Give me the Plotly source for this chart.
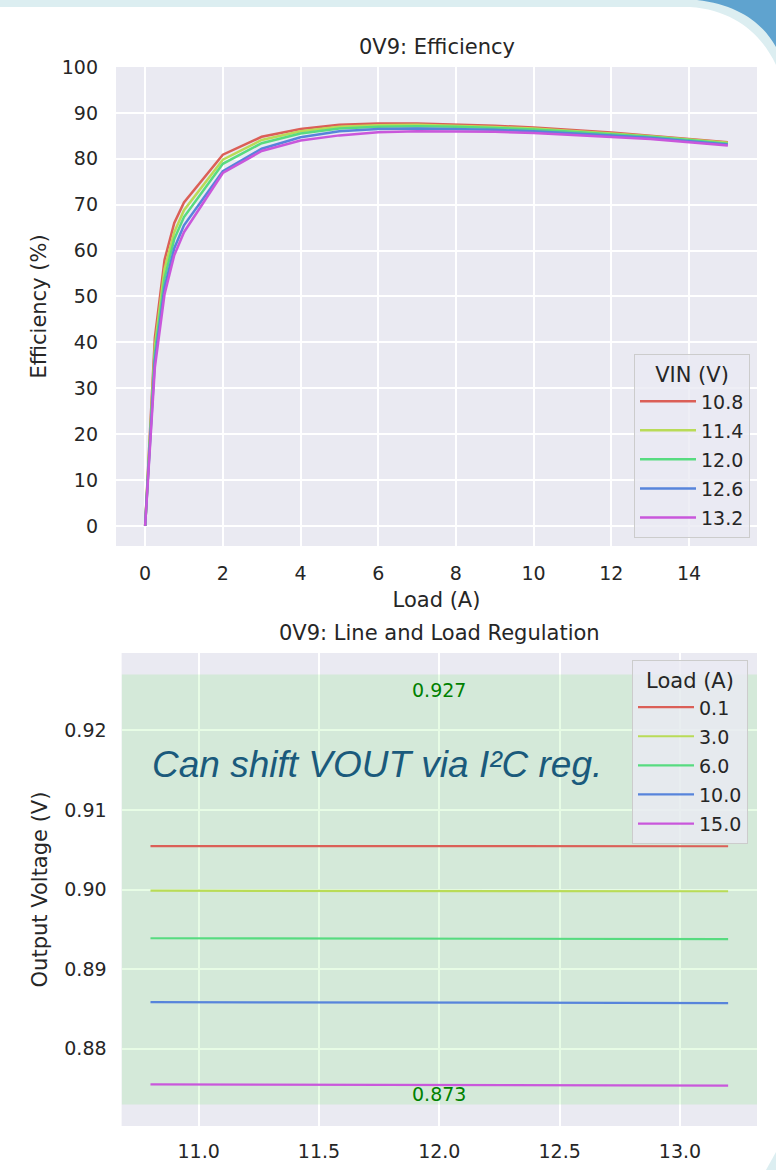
import plotly.graph_objects as go

# ---- Efficiency data: load current (A) vs. efficiency (%) per input voltage ----
loads = [0, 0.25, 0.5, 0.75, 1, 2, 3, 4, 5, 6, 7, 8, 9, 10, 11, 12, 13, 14, 15]
vin_labels = ["10.8", "11.4", "12.0", "12.6", "13.2"]
eff_10v8 = [0, 41.0, 58.0, 66.0, 70.5, 80.9, 84.8, 86.5, 87.4, 87.7, 87.7, 87.5, 87.2, 86.8, 86.3, 85.7, 85.0, 84.3, 83.6]
eff_11v4 = [0, 39.0, 56.0, 64.0, 68.8, 79.8, 84.1, 86.0, 87.0, 87.3, 87.4, 87.2, 86.9, 86.6, 86.1, 85.5, 84.9, 84.2, 83.5]
eff_12v0 = [0, 37.5, 54.0, 62.5, 67.3, 78.9, 83.4, 85.5, 86.6, 87.0, 87.1, 87.0, 86.7, 86.4, 85.9, 85.4, 84.8, 84.1, 83.3]
eff_12v6 = [0, 36.0, 52.0, 60.5, 65.5, 77.3, 82.2, 84.7, 86.0, 86.5, 86.6, 86.5, 86.3, 86.0, 85.6, 85.1, 84.6, 83.9, 83.1]
eff_13v2 = [0, 34.5, 50.5, 59.0, 64.0, 76.9, 81.7, 84.0, 85.1, 85.8, 86.0, 86.0, 85.9, 85.6, 85.2, 84.8, 84.3, 83.6, 82.9]
eff_series = [eff_10v8, eff_11v4, eff_12v0, eff_12v6, eff_13v2]

# ---- Regulation data: input voltage (V) vs. output voltage (V) per load ----
vin = [10.8, 11.4, 12.0, 12.6, 13.2]
load_labels = ["0.1", "3.0", "6.0", "10.0", "15.0"]
vout_0a1 = [0.90545, 0.90545, 0.90545, 0.90545, 0.90543]
vout_3a0 = [0.89985, 0.89985, 0.89983, 0.89982, 0.89978]
vout_6a0 = [0.89388, 0.89385, 0.89385, 0.89383, 0.89378]
vout_10a0 = [0.88585, 0.88582, 0.88580, 0.88578, 0.88574]
vout_15a0 = [0.87553, 0.87549, 0.87545, 0.87541, 0.87536]
vout_series = [vout_0a1, vout_3a0, vout_6a0, vout_10a0, vout_15a0]

# Allowed output window
vout_min, vout_max = 0.873, 0.927

# Axis ranges (data extent plus 5% padding)
eff_xrange = [-0.75, 15.75]
eff_yrange = [-4.38, 100]
reg_xrange = [10.68, 13.32]
reg_yrange = [0.8703, 0.9297]

palette = ["#DB5F57", "#B9DB57", "#57DB80", "#5784DB", "#C957DB"]

W, H = 776, 1170
FONT = "DejaVu Sans"
INK = "#262626"
BG = "#EAEAF2"


def fx(px):
    return px / W


def fy(py):
    return 1 - py / H


fig = go.Figure()

for i, (lab, ys) in enumerate(zip(vin_labels, eff_series)):
    fig.add_trace(go.Scatter(
        x=loads, y=ys, mode="lines", name=lab,
        line=dict(color=palette[i], width=2.5),
        xaxis="x", yaxis="y", legend="legend", legendgroup="e" + lab,
    ))

for i, (lab, ys) in enumerate(zip(load_labels, vout_series)):
    fig.add_trace(go.Scatter(
        x=vin, y=ys, mode="lines", name=lab,
        line=dict(color=palette[i], width=2.2),
        xaxis="x2", yaxis="y2", legend="legend2", legendgroup="r" + lab,
    ))

axis_common = dict(
    showline=False, zeroline=False, ticks="", showgrid=True,
    gridcolor="white", automargin=False,
    tickfont=dict(family=FONT, size=19, color=INK),
)

legend_common = dict(
    bgcolor="rgba(234,234,242,0.8)", bordercolor="#CCCCCC", borderwidth=1,
    font=dict(family=FONT, size=19, color=INK),
    tracegroupgap=1.4, itemwidth=56,
    xanchor="right", yanchor="top",
)

fig.update_layout(
    width=W, height=H,
    margin=dict(l=0, r=0, t=0, b=0),
    paper_bgcolor="white", plot_bgcolor=BG,
    font=dict(family=FONT, color=INK),
    xaxis=dict(
        domain=[fx(116), fx(757)], range=eff_xrange,
        tickvals=[0, 2, 4, 6, 8, 10, 12, 14], gridwidth=2,
        ticklabelstandoff=14, anchor="y",
        title=dict(text="Load (A)", font=dict(family=FONT, size=21, color=INK), standoff=9),
        **axis_common,
    ),
    yaxis=dict(
        domain=[fy(546), fy(67)], range=eff_yrange,
        tickvals=[0, 10, 20, 30, 40, 50, 60, 70, 80, 90, 100], gridwidth=2,
        ticklabelstandoff=17, anchor="x",
        title=dict(text="Efficiency (%)", font=dict(family=FONT, size=21, color=INK), standoff=9),
        **axis_common,
    ),
    xaxis2=dict(
        domain=[fx(121.6), fx(757)], range=reg_xrange,
        tickvals=[11.0, 11.5, 12.0, 12.5, 13.0], ticktext=["11.0", "11.5", "12.0", "12.5", "13.0"],
        gridwidth=1.5, ticklabelstandoff=12, anchor="y2",
        **axis_common,
    ),
    yaxis2=dict(
        domain=[fy(1126), fy(653)], range=reg_yrange,
        tickvals=[0.88, 0.89, 0.90, 0.91, 0.92], ticktext=["0.88", "0.89", "0.90", "0.91", "0.92"],
        gridwidth=1.5, ticklabelstandoff=14, anchor="x2",
        title=dict(text="Output Voltage (V)", font=dict(family=FONT, size=21, color=INK), standoff=10),
        **axis_common,
    ),
    legend=dict(
        x=fx(750), y=fy(354),
        title=dict(text="VIN (V)", side="top center", font=dict(family=FONT, size=21, color=INK)),
        **legend_common,
    ),
    legend2=dict(
        x=fx(748), y=fy(660),
        title=dict(text="Load (A)", side="top center", font=dict(family=FONT, size=21, color=INK)),
        **legend_common,
    ),
    showlegend=True,
)

# Green band: allowed output voltage window, drawn over the grid
fig.add_shape(
    type="rect", xref="x2", yref="y2",
    x0=reg_xrange[0], x1=reg_xrange[1], y0=vout_min, y1=vout_max,
    fillcolor="rgba(20,230,0,0.10)", line=dict(width=0), layer="between",
)

annotations = [
    dict(text="0V9: Efficiency", x=fx(436.5), y=fy(47), xref="paper", yref="paper",
         xanchor="center", yanchor="middle", showarrow=False,
         font=dict(family=FONT, size=21, color=INK)),
    dict(text="0V9: Line and Load Regulation", x=fx(439.5), y=fy(633), xref="paper", yref="paper",
         xanchor="center", yanchor="middle", showarrow=False,
         font=dict(family=FONT, size=21, color=INK)),
    dict(text=f"{vout_max:.3f}", x=12.0, y=vout_max, xref="x2", yref="y2",
         xanchor="center", yanchor="top", yshift=-2, showarrow=False,
         font=dict(family=FONT, size=19, color="#008000")),
    dict(text=f"{vout_min:.3f}", x=12.0, y=vout_min, xref="x2", yref="y2",
         xanchor="center", yanchor="bottom", yshift=-2, showarrow=False,
         font=dict(family=FONT, size=19, color="#008000")),
    dict(text="Can shift VOUT via I²C reg.",
         x=10.8, y=0.9157, xref="x2", yref="y2",
         xanchor="left", yanchor="middle", showarrow=False,
         font=dict(family="Liberation Sans", size=37, color="#1A5A7C", style="italic")),
]
fig.update_layout(annotations=annotations)


# Decorative page frame: light band along the top with a curved corner swoosh
def pts_path(cmds):
    out = []
    for c in cmds:
        if isinstance(c, str):
            out.append(c)
        else:
            out.append(f"{fx(c[0]):.5f},{fy(c[1]):.5f}")
    return " ".join(out)


band = pts_path(["M", (0, 0), "L", (776, 0), "L", (776, 65),
                 "C", (762, 35), (735, 10), (690, 7), "L", (0, 7), "Z"])
swoosh = pts_path(["M", (697, 0), "L", (776, 0), "L", (776, 47),
                   "C", (762, 22), (738, 5), (697, 0), "Z"])
corner = pts_path(["M", (766, 1170), "L", (776, 1152), "L", (776, 1170), "Z"])

fig.add_shape(type="path", xref="paper", yref="paper", path=band,
              fillcolor="#DCEEF1", line=dict(width=0), layer="above")
fig.add_shape(type="path", xref="paper", yref="paper", path=swoosh,
              fillcolor="#5FA3CF", line=dict(width=0), layer="above")
fig.add_shape(type="path", xref="paper", yref="paper", path=corner,
              fillcolor="#DCEEF1", line=dict(width=0), layer="above")

fig.write_html("out.html")
